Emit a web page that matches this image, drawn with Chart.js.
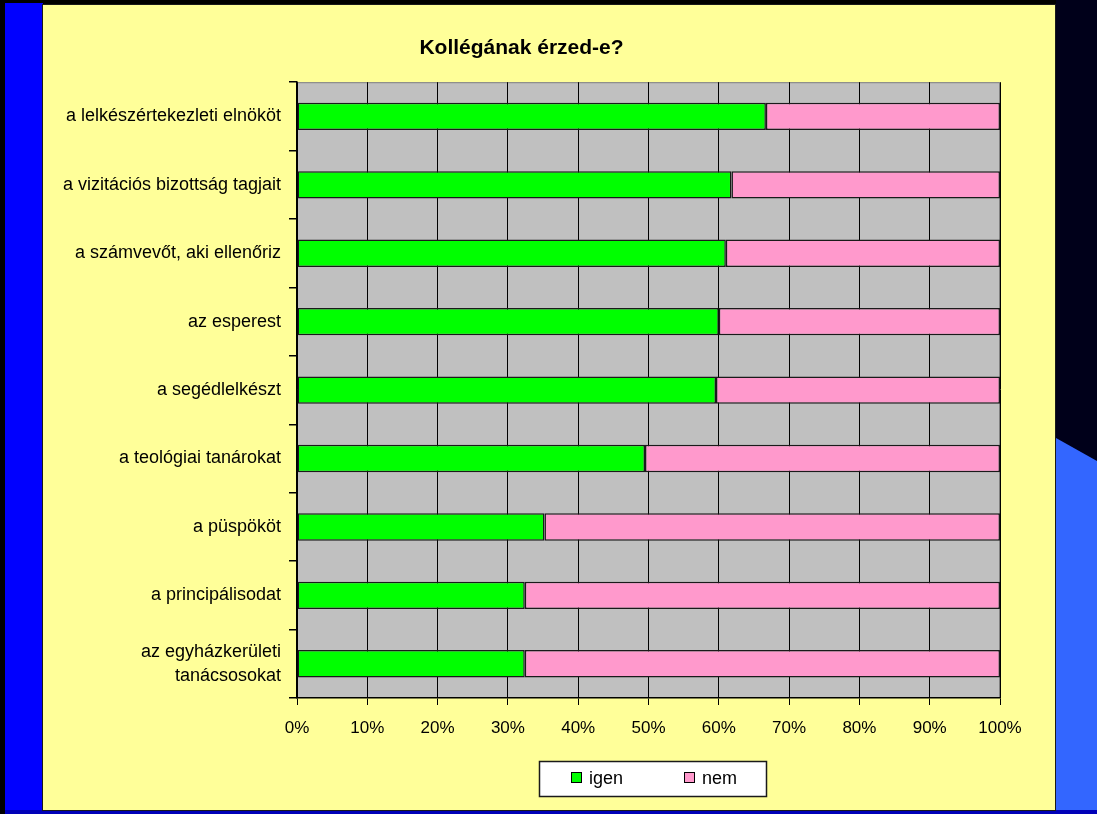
<!DOCTYPE html>
<html>
<head>
<meta charset="utf-8">
<script src="https://cdn.jsdelivr.net/npm/chart.js@4"></script>
<style>
  html, body { margin: 0; padding: 0; }
  body { width: 1097px; height: 814px; background: #000; position: relative; overflow: hidden; }
  #leftStrip { position: absolute; left: 5px; top: 3px; width: 38px; height: 811px; background: #0000ff; }
  #bottomStrip { position: absolute; left: 5px; top: 810px; width: 1092px; height: 4px; background: #0000b8; }
  #rightDark { position: absolute; left: 1056px; top: 0; width: 41px; height: 814px; background: #00001a; }
  #rightBlue { position: absolute; left: 1056px; top: 430px; width: 41px; height: 384px; background: #3366ff;
               clip-path: polygon(0 8px, 100% 31px, 100% 100%, 0 100%); }
  #panel { position: absolute; left: 42px; top: 4px; width: 1012px; height: 805px; border: 1px solid #1a1a1a; background: #ffff99; }
  #panel canvas { position: absolute; left: 0; top: 0; }
</style>
</head>
<body>
<div id="leftStrip"></div>
<div id="rightDark"></div>
<div id="rightBlue"></div>
<div id="bottomStrip"></div>
<div id="panel"><canvas id="kollegaChart" width="1012" height="805"></canvas></div>

<script>
// KOLLÉGÁNAK ÉRZED-E? CHART
const categories = [
    'a lelkészértekezleti elnököt',
    'a vizitációs bizottság tagjait',
    'a számvevőt, aki ellenőriz',
    'az esperest',
    'a segédlelkészt',
    'a teológiai tanárokat',
    'a püspököt',
    'a principálisodat',
    ['az egyházkerületi', 'tanácsosokat']
];
const igen = [66.7, 61.8, 61.0, 60.0, 59.6, 49.5, 35.2, 32.4, 32.4];
const nem = [33.3, 38.2, 39.0, 40.0, 40.4, 50.5, 64.8, 67.6, 67.6];
const xTicks = [0, 10, 20, 30, 40, 50, 60, 70, 80, 90, 100];

const FONT = 'Arial, "Liberation Sans", sans-serif';

// grey plot area behind the bars
const plotBackground = {
    id: 'plotBackground',
    beforeDraw(chart) {
        const {ctx, chartArea: a} = chart;
        ctx.save();
        ctx.fillStyle = '#c0c0c0';
        ctx.fillRect(a.left, a.top, a.right - a.left, a.bottom - a.top);
        ctx.strokeStyle = '#808080';
        ctx.lineWidth = 1;
        ctx.strokeRect(a.left + 0.5, a.top + 0.5, a.right - a.left - 1, a.bottom - a.top - 1);
        ctx.restore();
    }
};

// boxed legend under the axis
const boxedLegend = {
    id: 'boxedLegend',
    afterDraw(chart) {
        const {ctx, chartArea: a} = chart;
        const w = 227, h = 35;
        const left = Math.round((a.left + a.right) / 2 - w / 2) + 4;
        const top = Math.round(a.bottom + 63);
        ctx.save();
        ctx.fillStyle = '#ffffff';
        ctx.fillRect(left, top, w, h);
        ctx.strokeStyle = '#1a1a1a';
        ctx.lineWidth = 1.5;
        ctx.strokeRect(left + 0.5, top + 0.5, w, h);
        ctx.font = '18px ' + FONT;
        ctx.textBaseline = 'middle';
        const offsets = [32, 145];
        chart.data.datasets.forEach((ds, i) => {
            const x = left + offsets[i];
            const y = top + 11;
            ctx.fillStyle = ds.backgroundColor;
            ctx.fillRect(x, y, 11, 11);
            ctx.strokeStyle = '#000';
            ctx.lineWidth = 1;
            ctx.strokeRect(x + 0.5, y + 0.5, 10, 10);
            ctx.fillStyle = '#000';
            ctx.fillText(ds.label, x + 18, top + h / 2 + 1);
        });
        ctx.restore();
    }
};

const kollegaCtx = document.getElementById('kollegaChart').getContext('2d');

const kollegaChart = new Chart(kollegaCtx, {
    type: 'bar',
    data: {
        labels: categories,
        datasets: [
            {
                label: 'igen',
                data: igen,
                backgroundColor: '#00ff00',
                borderColor: '#1a1a1a',
                borderWidth: 1.5,
                borderSkipped: false,
            },
            {
                label: 'nem',
                data: nem,
                backgroundColor: '#ff99cc',
                borderColor: '#1a1a1a',
                borderWidth: 1.5,
                borderSkipped: false,
            }
        ]
    },
    options: {
        indexAxis: 'y',
        responsive: false,
        animation: false,
        categoryPercentage: 1,
        barPercentage: 0.4,
        layout: {
            padding: { left: 0, right: 55, top: 0, bottom: 0 }
        },
        scales: {
            x: {
                stacked: true,
                min: 0,
                max: 100,
                afterBuildTicks(scale) {
                    scale.ticks = xTicks.map(v => ({ value: v }));
                },
                afterFit(scale) {
                    scale.height = 112;
                },
                ticks: {
                    callback: v => v + '%',
                    color: '#000',
                    font: { family: FONT, size: 17 },
                    padding: 13,
                    maxRotation: 0,
                },
                grid: {
                    color: '#000',
                    lineWidth: 1,
                    tickLength: 7,
                },
                border: { color: '#000', width: 1.5 }
            },
            y: {
                stacked: true,
                afterFit(scale) {
                    scale.width = 254;
                },
                ticks: {
                    color: '#000',
                    font: { family: FONT, size: 18, lineHeight: 1.35 },
                    padding: 8,
                },
                grid: {
                    drawOnChartArea: false,
                    color: '#000',
                    tickLength: 8,
                    lineWidth: 1.5,
                },
                border: { color: '#000', width: 1.5 }
            }
        },
        plugins: {
            legend: { display: false },
            tooltip: { enabled: false },
            title: {
                display: true,
                text: 'Kollégának érzed-e?',
                color: '#000',
                font: { family: FONT, size: 21, weight: 'bold' },
                padding: { top: 31, bottom: 21 }
            }
        }
    },
    plugins: [plotBackground, boxedLegend]
});
</script>
</body>
</html>
